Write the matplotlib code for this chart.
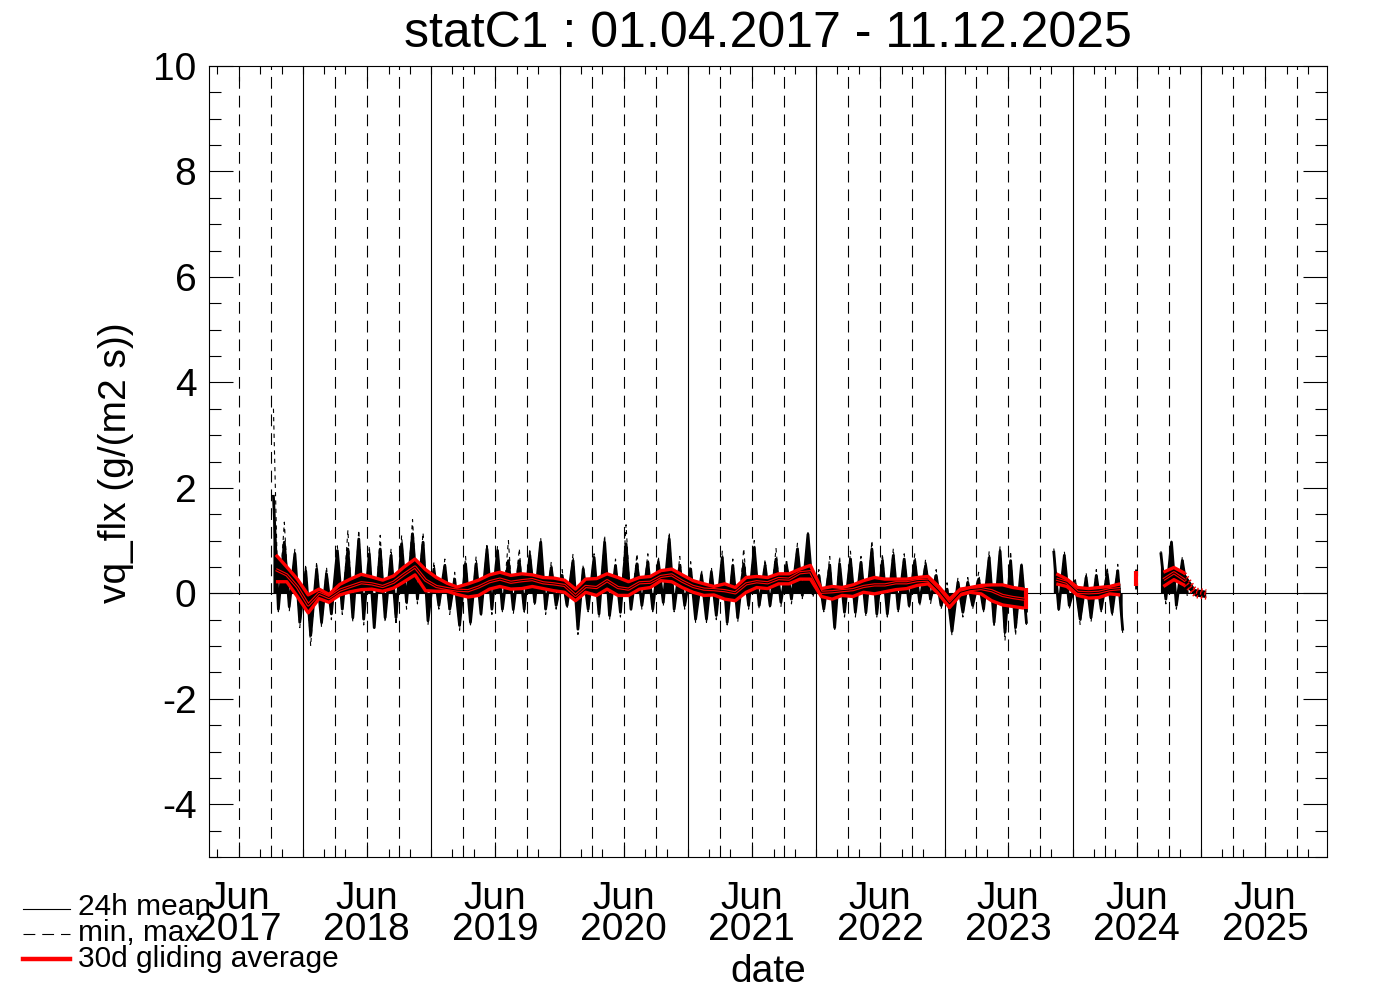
import numpy as np
import pandas as pd
import matplotlib
matplotlib.use("Agg")
import matplotlib.pyplot as plt
import matplotlib.dates as mdates
from matplotlib.lines import Line2D
from matplotlib.ticker import MultipleLocator, FixedLocator

nan = np.nan

# one value per month, Oct 2017 .. Jan 2025
months = pd.date_range("2017-10-01", "2025-01-01", freq="MS")

# 30d gliding averages (of max, mean, min)
red_up = [0.73, 0.50, 0.27, -0.03, 0.08, -0.02, 0.17, 0.27, 0.36, 0.31,
          0.25, 0.33, 0.50, 0.65, 0.45, 0.30, 0.19, 0.12, 0.18, 0.25,
          0.35, 0.40, 0.34, 0.37, 0.35, 0.30, 0.29, 0.25, 0.08, 0.27,
          0.28, 0.37, 0.30, 0.22, 0.30, 0.32, 0.43, 0.46, 0.35, 0.24,
          0.18, 0.13, 0.18, 0.11, 0.30, 0.32, 0.30, 0.37, 0.37, 0.46,
          0.53, 0.09, 0.13, 0.11, 0.16, 0.24, 0.30, 0.27, 0.27, 0.27,
          0.30, 0.32, 0.13, -0.11, 0.08, 0.11, 0.15, 0.16, 0.16, 0.11,
          0.08, nan, nan, 0.37, 0.27, 0.11, 0.09, 0.11, 0.13, 0.18,
          nan, nan, nan, 0.40, 0.49, 0.38, 0.08, 0.05]
red_mid = [0.45, 0.35, 0.12, -0.22, 0.00, -0.08, 0.06, 0.13, 0.20, 0.18,
           0.13, 0.21, 0.36, 0.50, 0.25, 0.13, 0.09, 0.06, 0.05, 0.12,
           0.22, 0.27, 0.21, 0.24, 0.26, 0.20, 0.18, 0.15, -0.04, 0.13,
           0.11, 0.24, 0.11, 0.08, 0.20, 0.21, 0.32, 0.35, 0.23, 0.13,
           0.08, 0.07, 0.05, 0.01, 0.18, 0.22, 0.20, 0.28, 0.27, 0.39,
           0.41, 0.02, 0.03, 0.05, 0.07, 0.13, 0.16, 0.16, 0.20, 0.20,
           0.24, 0.25, 0.05, -0.20, 0.02, 0.07, 0.09, 0.05, -0.04, -0.08,
           -0.11, nan, nan, 0.27, 0.21, 0.02, 0.01, 0.02, 0.07, 0.09,
           nan, nan, nan, 0.26, 0.39, 0.25, 0.02, -0.01]
red_lo = [0.22, 0.22, -0.06, -0.37, -0.10, -0.17, -0.03, 0.03, 0.07, 0.08,
          0.04, 0.10, 0.22, 0.35, 0.05, 0.04, 0.04, -0.02, -0.07, -0.04,
          0.08, 0.13, 0.08, 0.09, 0.13, 0.09, 0.05, 0.02, -0.14, 0.02,
          -0.04, 0.08, -0.04, -0.04, 0.08, 0.11, 0.24, 0.22, 0.11, 0.02,
          -0.04, -0.03, -0.11, -0.14, 0.02, 0.11, 0.09, 0.18, 0.18, 0.27,
          0.27, -0.06, -0.11, -0.04, -0.06, 0.02, -0.01, 0.03, 0.07, 0.09,
          0.15, 0.18, -0.01, -0.27, -0.03, 0.02, -0.01, -0.14, -0.22, -0.25,
          -0.28, nan, nan, 0.18, 0.13, -0.04, -0.09, -0.08, -0.01, -0.03,
          nan, nan, nan, 0.13, 0.26, 0.15, -0.06, -0.09]

# range of the 24h means within each month
mean_hi = [1.84, 0.97, 0.75, 0.42, 0.46, 0.37, 0.81, 0.84, 1.03, 0.75,
           0.84, 0.72, 0.94, 1.13, 0.97, 0.46, 0.53, 0.27, 0.56, 0.56,
           0.84, 0.81, 0.62, 0.62, 0.72, 0.97, 0.49, 0.34, 0.62, 0.46,
           0.68, 0.97, 0.53, 0.94, 0.56, 0.59, 0.59, 1.03, 0.53, 0.46,
           0.34, 0.40, 0.68, 0.53, 0.56, 0.87, 0.53, 0.65, 0.53, 0.84,
           1.12, 0.34, 0.53, 0.56, 0.65, 0.59, 0.84, 0.62, 0.72, 0.65,
           0.62, 0.53, 0.34, 0.08, 0.21, 0.21, 0.27, 0.68, 0.80, 0.62,
           0.53, nan, nan, 0.78, 0.72, 0.18, 0.30, 0.34, 0.37, 0.43,
           nan, nan, nan, 0.75, 0.97, 0.62, nan, nan]
mean_lo = [-0.30, -0.25, -0.55, -0.80, -0.55, -0.39, -0.30, -0.46, -0.49, -0.65,
           -0.46, -0.46, -0.17, -0.11, -0.52, -0.23, -0.30, -0.61, -0.55, -0.39,
           -0.30, -0.30, -0.30, -0.30, -0.17, -0.30, -0.23, -0.23, -0.68, -0.30,
           -0.39, -0.42, -0.36, -0.30, -0.23, -0.30, -0.17, -0.30, -0.23, -0.49,
           -0.49, -0.42, -0.55, -0.46, -0.23, -0.23, -0.23, -0.17, -0.11, -0.04,
           -0.01, -0.30, -0.65, -0.36, -0.36, -0.36, -0.39, -0.39, -0.30, -0.23,
           -0.17, -0.11, -0.23, -0.72, -0.36, -0.23, -0.30, -0.55, -0.74, -0.65,
           -0.55, nan, nan, -0.30, -0.23, -0.49, -0.46, -0.30, -0.36, -0.68,
           nan, nan, nan, -0.11, -0.23, 0.02, nan, nan]

# min, max
val_max = [3.50, 1.35, 0.85, 0.55, 0.60, 0.50, 0.90, 1.20, 1.20, 0.90,
           1.10, 0.85, 1.10, 1.40, 1.15, 0.60, 0.65, 0.40, 0.70, 0.70,
           0.95, 0.90, 1.00, 0.85, 0.85, 1.05, 0.60, 0.45, 0.75, 0.55,
           0.75, 1.10, 0.65, 1.30, 0.75, 0.75, 0.70, 1.16, 0.70, 0.60,
           0.45, 0.50, 0.80, 0.65, 0.85, 1.00, 0.65, 0.85, 0.65, 0.95,
           1.15, 0.45, 0.70, 0.70, 0.80, 0.70, 1.00, 0.75, 0.85, 0.75,
           0.75, 0.65, 0.45, 0.20, 0.30, 0.30, 0.40, 0.80, 0.90, 0.80,
           0.60, nan, nan, 0.85, 0.80, 0.30, 0.40, 0.45, 0.50, 0.55,
           nan, nan, nan, 0.80, 1.00, 0.70, nan, nan]
val_min = [-0.35, -0.35, -0.65, -1.00, -0.65, -0.50, -0.40, -0.55, -0.60, -0.70,
           -0.55, -0.60, -0.30, -0.20, -0.60, -0.30, -0.40, -0.70, -0.60, -0.45,
           -0.40, -0.35, -0.40, -0.40, -0.25, -0.40, -0.30, -0.30, -0.78, -0.35,
           -0.45, -0.50, -0.45, -0.35, -0.30, -0.35, -0.25, -0.35, -0.30, -0.55,
           -0.55, -0.50, -0.60, -0.55, -0.30, -0.30, -0.30, -0.25, -0.20, -0.10,
           -0.08, -0.35, -0.70, -0.45, -0.45, -0.45, -0.45, -0.45, -0.35, -0.30,
           -0.25, -0.20, -0.30, -0.80, -0.45, -0.30, -0.35, -0.65, -0.90, -0.80,
           -0.60, nan, nan, -0.35, -0.30, -0.60, -0.55, -0.35, -0.45, -0.75,
           nan, nan, nan, -0.20, -0.30, -0.05, nan, nan]

# short isolated pieces
bit_dates = pd.to_datetime(["2023-08-20", "2024-06-29"])
bit_hi = [0.10, 0.46]
bit_lo = [-0.35, 0.08]
bit_red_hi = [0.11, 0.43]
bit_red_lo = [-0.30, 0.13]

title = "statC1 : 01.04.2017 - 11.12.2025"
years = list(range(2017, 2026))

plt.rcParams['font.family'] = ['Liberation Sans', 'DejaVu Sans']
plt.rcParams['lines.scale_dashes'] = False
dash = (0, (8.5, 5.0))

fig = plt.figure(figsize=(13.88, 9.92), dpi=100)
ax = fig.add_axes([209 / 1388, 135 / 992, 1117.7 / 1388, 791 / 992])

# grid of year (solid) and quarter (dashed) lines
for yr in years:
    if yr > 2017:
        ax.axvline(pd.Timestamp(yr, 1, 1), color='k', lw=0.8, zorder=1)
    for m in (4, 7, 10):
        if yr == 2017 and m == 4:
            continue
        ax.axvline(pd.Timestamp(yr, m, 1), color='k', lw=0.8, ls=dash, zorder=1)
ax.axhline(0, color='k', lw=0.8, zorder=1)

# 24h mean and min/max as zigzag through each month
n = len(months)
zz_dates = np.empty(2 * n, dtype='datetime64[ns]')
zz_dates[0::2] = (months + pd.Timedelta(days=7)).values
zz_dates[1::2] = (months + pd.Timedelta(days=21)).values
zz_mean = np.empty(2 * n)
zz_mean[0::2] = mean_hi
zz_mean[1::2] = mean_lo
zz_ext = np.empty(2 * n)
zz_ext[0::2] = val_max
zz_ext[1::2] = val_min

mid_dates = months + pd.Timedelta(days=14)
up = np.array(red_up)
mid = np.array(red_mid)
lo = np.array(red_lo)

ax.plot(zz_dates, zz_ext, color='k', lw=0.8, ls=(0, (3, 3)), zorder=2)
ax.fill_between(mid_dates, lo, up, color='k', lw=0, zorder=2)
ax.fill_between(zz_dates, zz_mean, 0, color='k', lw=0, zorder=2)
ax.plot(zz_dates, zz_mean, color='k', lw=2.0, zorder=3)
ax.vlines(bit_dates, bit_lo, bit_hi, color='k', lw=2, zorder=3)

# 30d gliding average; dotted tail at the end
tail = 85
for arr in (up, mid, lo):
    ax.plot(mid_dates[:tail + 1], arr[:tail + 1], color='red', lw=2.4,
            solid_capstyle='butt', zorder=4)
    ax.plot(mid_dates[tail:], arr[tail:], color='red', lw=2.4,
            ls=(0, (1, 2)), zorder=4)
ax.plot(mid_dates[:tail + 1], mid[:tail + 1], color='k', lw=0.7, zorder=5)
ax.vlines(bit_dates, bit_red_lo, bit_red_hi, color='red', lw=3, zorder=4)

# axes ranges
ax.set_xlim(mdates.date2num(pd.Timestamp("2017-04-07 12:00")),
            mdates.date2num(pd.Timestamp("2025-12-24")))
ax.set_ylim(-5, 10)

ax.set_yticks(np.arange(-4, 11, 2))
ax.set_yticklabels([str(v) for v in range(-4, 11, 2)])
ax.yaxis.set_minor_locator(MultipleLocator(0.5))

jul = [mdates.date2num(pd.Timestamp(yr, 7, 1)) for yr in years]
minor_x = [mdates.date2num(pd.Timestamp(yr, m, 1)) for yr in years
           for m in (1, 3, 5, 9, 11)]
ax.xaxis.set_major_locator(FixedLocator(jul))
ax.xaxis.set_minor_locator(FixedLocator(minor_x))
ax.set_xticklabels([f"Jun\n{yr}" for yr in years], linespacing=0.85)

ax.tick_params(axis='y', which='major', direction='in', length=17, width=0.8,
               right=True, labelsize=28, pad=9)
ax.tick_params(axis='y', which='minor', direction='in', length=8.5, width=0.8,
               right=True)
ax.tick_params(axis='x', which='major', direction='in', length=11, width=0.8,
               top=True, labelsize=28, pad=17)
ax.tick_params(axis='x', which='minor', direction='in', length=5.5, width=0.8,
               top=True)
for s in ax.spines.values():
    s.set_linewidth(0.8)

fig.text(768 / 1388, 1 - 47 / 992, title, fontsize=36, ha='center', va='baseline')
fig.text(116 / 1388, 1 - 463 / 992, "vq_flx (g/(m2 s))", fontsize=28,
         rotation=90, ha='center', va='center')
fig.text(768 / 1388, 1 - 972 / 992, "date", fontsize=28, ha='center', va='center')

# legend in the lower left corner (overlaps the first tick label, as in the original)
leg_y = [909, 934, 959]
leg_txt_y = [915, 941, 967]
fig.add_artist(Line2D([23 / 1388, 70 / 1388], [1 - leg_y[0] / 992] * 2,
                      color='k', lw=0.8))
fig.add_artist(Line2D([23 / 1388, 70 / 1388], [1 - leg_y[1] / 992] * 2,
                      color='k', lw=0.8, ls=dash))
fig.add_artist(Line2D([23 / 1388, 70 / 1388], [1 - leg_y[2] / 992] * 2,
                      color='red', lw=3.2))
for yy, txt in zip(leg_txt_y, ["24h mean", "min, max", "30d gliding average"]):
    fig.text(78 / 1388, 1 - yy / 992, txt, fontsize=21.5, va='baseline')

fig.savefig("out.png", dpi=100)
